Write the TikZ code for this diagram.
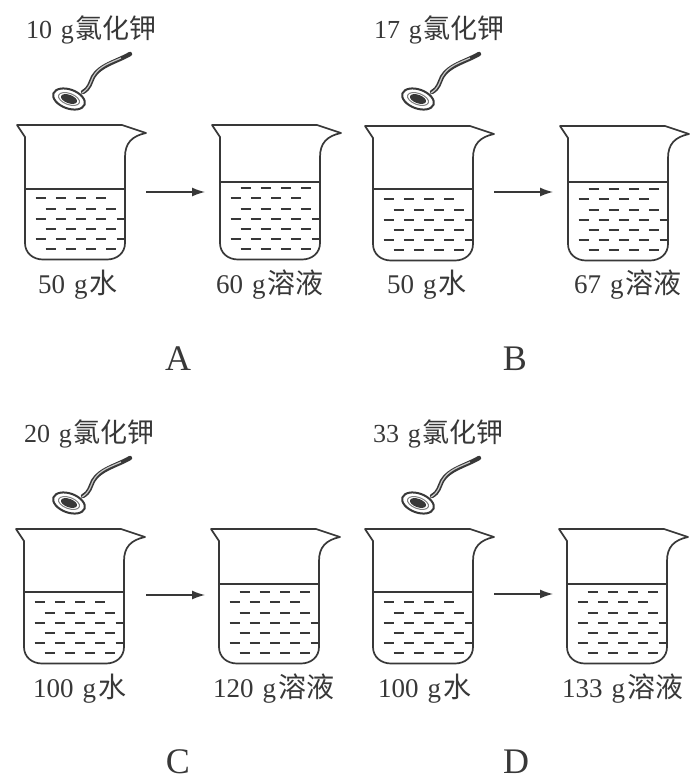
\documentclass[tikz,border=0pt]{standalone}
\usepackage{fontspec}
\usetikzlibrary{arrows.meta}
\setmainfont{Liberation Serif}
\newfontfamily\cjk{Noto Sans CJK SC}
\definecolor{ink}{HTML}{383838}
\tikzset{
  glass/.style={draw=ink,line width=1.7pt,line join=round},
  waterline/.style={draw=ink,line width=1.7pt},
  ripple/.style={draw=ink,line width=1.9pt},
  lab/.style={text=ink,inner sep=0pt,anchor=base west},
  letter/.style={text=ink,font=\fontsize{36}{36}\selectfont,inner sep=0pt,anchor=base},
  flow/.style={draw=ink,line width=1.4pt,-{Latex[length=13pt,width=9pt]}},
  beaker/.pic={
    \draw[glass] (8,12) -- (0,0) -- (105,0) -- (129,8) .. controls (115,11) and (108,18) .. (108,32)
      -- (108,118) .. controls (108,128) and (100,134.5) .. (90,134.5) -- (26,134.5)
      .. controls (16,134.5) and (8,128) .. (8,118) -- cycle;
  },
  spoon/.pic={
    \begin{scope}[rotate around={-20:(69,99)}]
      \draw[ink,line width=2pt,fill=white] (69,99) ellipse (16.5 and 9.5);
      \draw[gray,line width=1pt] (69,99) ellipse (11 and 5.6);
      \fill[ink] (69,99) ellipse (8.5 and 4.2);
    \end{scope}
    \draw[ink,line width=4.4pt,line cap=round] (83,92) .. controls (90,88) and (90,83) .. (93,77)
      .. controls (100,65) and (116,62) .. (130,54);
    \draw[gray!45,line width=1.2pt] (82,93) .. controls (90,88) and (90,83) .. (93,77)
      .. controls (99,66) and (110,63) .. (121,58);
  }
}
% #1 beaker rim-left x, #2 rim y, #3 water y, #4 rows of ripples
\newcommand{\vessel}[4]{%
  \pic at (#1,#2) {beaker};
  \draw[waterline] ({#1+8},#3) -- ({#1+108},#3);
  \foreach \r in {1,...,#4}{
    \pgfmathsetmacro{\yy}{round(#2+124-(\r-1)*10.1)}
    \pgfmathtruncatemacro{\odd}{isodd(\r)}
    \ifnum\odd=1
      \foreach \c in {0,1,2,3}{\draw[ripple] ({#1+28.5+\c*20.3},\yy) -- ++(10,0);}
    \else
      \foreach \c in {0,1,2,3}{\draw[ripple] ({#1+18.5+\c*20.3},\yy) -- ++(10,0);}
      \ifnum\r<6 \draw[ripple] ({#1+99.5},\yy) -- ({#1+108},\yy);\fi
    \fi
  }
}
\newcommand{\toplab}[1]{\fontsize{26}{26}\selectfont #1\hspace{0.33em}g\hspace{2pt}{\cjk\fontsize{27}{27}\selectfont 氯化钾}}
\newcommand{\botlab}[2]{\fontsize{27}{27}\selectfont #1\hspace{0.33em}g\hspace{2pt}{\cjk\fontsize{28}{28}\selectfont #2}}
\begin{document}
\begin{tikzpicture}[x=1pt,y=-1pt]
\useasboundingbox (0,0) rectangle (695,777);
\fill[white] (0,0) rectangle (695,777);

% Panel A
\node[lab] (tA) at (26,38) {\toplab{10}};
\pic at (0,0) {spoon};
\vessel{17}{125}{189}{6}
\vessel{212}{125}{182}{7}
\coordinate (a1) at (146,192);
\coordinate (a2) at (205,192);
\draw[flow] (a1) -- (a2);
\node[lab] (wA) at (38,293) {\botlab{50}{水}};
\node[lab] (sA) at (216,293) {\botlab{60}{溶液}};
\node[letter] (LA) at (178,370) {A};

% Panel B
\node[lab] (tB) at (374,38) {\toplab{17}};
\pic at (349,0) {spoon};
\vessel{365}{126}{189}{6}
\vessel{560}{126}{182}{7}
\coordinate (b1) at (494,192);
\coordinate (b2) at (553,192);
\draw[flow] (b1) -- (b2);
\node[lab] (wB) at (387,293) {\botlab{50}{水}};
\node[lab] (sB) at (574,293) {\botlab{67}{溶液}};
\node[letter] (LB) at (515,370) {B};

% Panel C
\node[lab] (tC) at (24,442) {\toplab{20}};
\pic at (0,404) {spoon};
\vessel{16}{529}{592}{6}
\vessel{211}{529}{584}{7}
\coordinate (c1) at (146,595);
\coordinate (c2) at (205,595);
\draw[flow] (c1) -- (c2);
\node[lab] (wC) at (33,697) {\botlab{100}{水}};
\node[lab] (sC) at (213,697) {\botlab{120}{溶液}};
\node[letter] (LC) at (178,773) {C};

% Panel D
\node[lab] (tD) at (373,442) {\toplab{33}};
\pic at (349,404) {spoon};
\vessel{365}{529}{592}{6}
\vessel{559}{529}{584}{7}
\coordinate (d1) at (494,594);
\coordinate (d2) at (553,594);
\draw[flow] (d1) -- (d2);
\node[lab] (wD) at (378,697) {\botlab{100}{水}};
\node[lab] (sD) at (562,697) {\botlab{133}{溶液}};
\node[letter] (LD) at (516,773) {D};
\end{tikzpicture}
\end{document}
